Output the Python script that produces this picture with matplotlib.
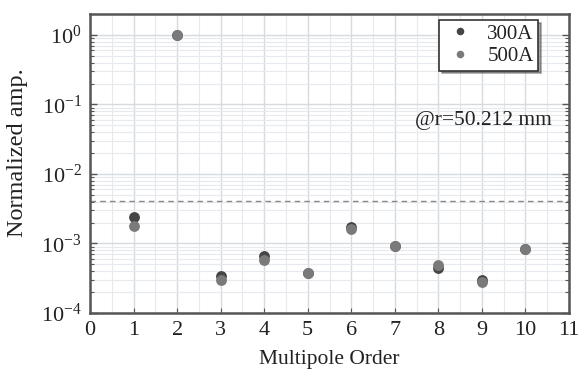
import matplotlib
matplotlib.use("Agg")
import matplotlib.pyplot as plt
import numpy as np
from matplotlib.ticker import MultipleLocator, LogLocator, NullFormatter

plt.rcParams['font.family'] = ['Liberation Serif', 'DejaVu Serif']
plt.rcParams['mathtext.fontset'] = 'stix'

# multipole amplitudes normalized to the main (quadrupole) component
order = [1, 2, 3, 4, 5, 6, 7, 8, 9, 10]
amp_300A = [2.43e-3, 1.0, 3.4e-4, 6.5e-4, 3.8e-4, 1.75e-3, 9.1e-4, 4.5e-4, 2.95e-4, 8.4e-4]
amp_500A = [1.8e-3, 1.0, 3.0e-4, 5.8e-4, 3.7e-4, 1.6e-3, 9.1e-4, 4.85e-4, 2.8e-4, 8.4e-4]
limit = 4.1e-3
radius_label = '@r=50.212 mm'

fig = plt.figure(figsize=(5.79, 3.71), dpi=100)
ax = fig.add_axes([90 / 579, 1 - 313 / 371, 479 / 579, 299 / 371])

ax.set_yscale('log')
ax.set_xlim(0, 11)
ax.set_ylim(1e-4, 2)

ax.xaxis.set_major_locator(MultipleLocator(1))
ax.xaxis.set_minor_locator(MultipleLocator(0.5))
ax.yaxis.set_major_locator(LogLocator(base=10, numticks=10))
ax.yaxis.set_minor_locator(LogLocator(base=10, subs=np.arange(2, 10), numticks=20))
ax.yaxis.set_minor_formatter(NullFormatter())

ax.grid(True, which='major', color='#d5dbe0', lw=1.0)
ax.grid(True, which='minor', color='#e6eaee', lw=0.8)
ax.set_axisbelow(True)

ax.axhline(limit, color='#888888', lw=1.0, ls=(0, (4, 3)))

ax.plot(order, amp_300A, 'o', color='#454545', ms=7.8, mec='none', label='300A')
ax.plot(order, amp_500A, 'o', color='#7a7a7a', ms=7.8, mec='none', label='500A')

ax.tick_params(axis='both', which='both', direction='in', right=True, top=False,
               color='#555555')
ax.tick_params(axis='x', which='minor', length=0)
ax.tick_params(axis='y', which='major', length=5, width=1)
ax.tick_params(axis='y', which='minor', length=3, width=0.8)
ax.tick_params(axis='both', labelsize=16, pad=6, labelcolor='#222222')

for s in ax.spines.values():
    s.set_color('#555555')
    s.set_linewidth(1.8)

ax.set_xlabel('Multipole Order', fontsize=15.5, color='#222222', labelpad=7)
ax.set_ylabel('Normalized amp.', fontsize=17.5, color='#222222', labelpad=4)
ax.yaxis.set_label_coords(-0.13, 0.535)

ax.text(0.965, 0.645, radius_label, transform=ax.transAxes, ha='right', va='center',
        fontsize=15.5, color='#222222')

leg = ax.legend(loc='upper right', bbox_to_anchor=(0.935, 0.98), fontsize=15,
                frameon=True, fancybox=False, shadow=True, handletextpad=0.5,
                borderpad=0.2, labelspacing=0.15, markerscale=0.7,
                handlelength=1.6, borderaxespad=0)
leg.get_frame().set_edgecolor('#333333')
leg.get_frame().set_linewidth(1.2)
for t in leg.get_texts():
    t.set_color('#222222')

fig.savefig('out.png', dpi=100)
